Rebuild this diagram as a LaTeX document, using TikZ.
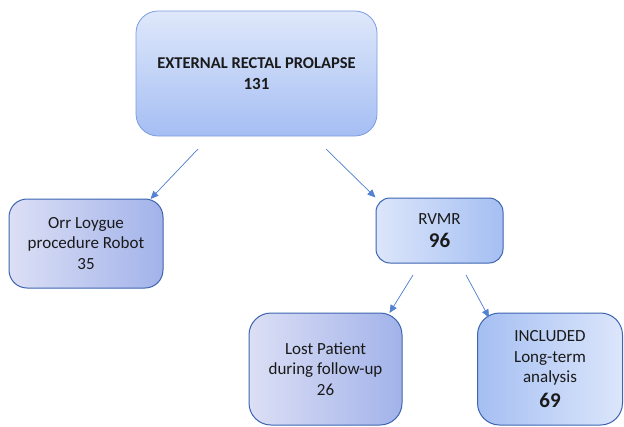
\documentclass[tikz,border=0pt]{standalone}
\usepackage{fontspec}
\setmainfont{Carlito}
\usetikzlibrary{arrows.meta,calc}
\definecolor{toptop}{HTML}{DFE8FB}
\definecolor{topbot}{HTML}{A5BEF3}
\definecolor{topedge}{HTML}{7C9CE0}
\definecolor{lavlight}{HTML}{DCDFF5}
\definecolor{lavdark}{HTML}{A2B3EA}
\definecolor{bluelight}{HTML}{DCE6FB}
\definecolor{bluedark}{HTML}{A5BFF2}
\definecolor{boxedge}{HTML}{3D64B0}
\definecolor{arrowcol}{HTML}{5482D2}
\definecolor{txt}{HTML}{1A1A1A}
\tikzset{
  boxbase/.style={draw, align=center, inner sep=0pt, text=txt,
    font=\fontsize{17}{20.5}\selectfont},
  topbox/.style={boxbase, draw=topedge, line width=0.8pt, rounded corners=22pt,
    top color=toptop, bottom color=topbot},
  lavbox/.style={boxbase, draw=boxedge, line width=1pt,
    left color=lavlight, right color=lavdark},
  bluebox/.style={boxbase, draw=boxedge, line width=1pt,
    left color=bluelight, right color=bluedark},
  revbox/.style={boxbase, draw=boxedge, line width=1pt,
    left color=bluedark, right color=bluelight},
  arr/.style={draw=arrowcol, line width=0.7pt,
    -{Triangle[length=8pt,width=7pt]}, fill=arrowcol}
}
\begin{document}
\begin{tikzpicture}[x=1pt,y=-1pt]
\useasboundingbox (0,0) rectangle (624,426);
\node[topbox, minimum width=241pt, minimum height=125pt] (top) at (256.5,73.5)
  {\fontsize{16.5}{21.5}\selectfont\textbf{EXTERNAL RECTAL PROLAPSE}\\\textbf{131}};
\node[lavbox, rounded corners=18pt, minimum width=154pt, minimum height=89pt] (orr) at (86,243.5)
  {Orr Loygue\\procedure Robot\\35};
\node[bluebox, rounded corners=14pt, minimum width=127pt, minimum height=65pt] (rvmr) at (439.5,230.5)
  {RVMR\\[2pt]{\fontsize{21}{22}\selectfont\textbf{96}}};
\node[lavbox, rounded corners=22pt, minimum width=153pt, minimum height=112pt] (lost) at (325.5,369)
  {Lost Patient\\during follow-up\\26};
\node[revbox, rounded corners=22pt, minimum width=145pt, minimum height=112pt] (incl) at (550,369)
  {INCLUDED\\Long-term\\analysis\\[4pt]{\fontsize{21}{22}\selectfont\textbf{69}}};
% arrow ends
\coordinate (s1) at (198,149);
\coordinate (e1) at ($(orr.north east)+(-13,0.5)$);
\coordinate (s2) at (326,149);
\coordinate (e2) at ($(rvmr.north west)+(0,0)$);
\coordinate (s3) at (413,275);
\coordinate (e3) at ($(lost.north east)+(-13,0.5)$);
\coordinate (s4) at (466,275);
\coordinate (e4) at ($(incl.north west)+(12,5)$);
\draw[arr] (s1) -- (e1);
\draw[arr] (s2) -- (e2);
\draw[arr] (s3) -- (e3);
\draw[arr] (s4) -- (e4);
\end{tikzpicture}
\end{document}
